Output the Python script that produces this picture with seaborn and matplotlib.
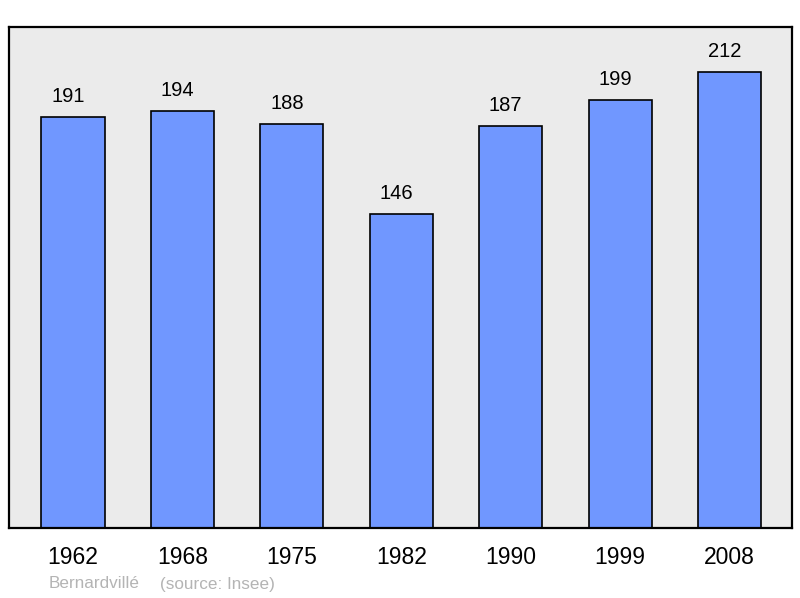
import matplotlib
matplotlib.use("Agg")
import matplotlib.pyplot as plt
import seaborn as sns

# population by census year
years = ["1962", "1968", "1975", "1982", "1990", "1999", "2008"]
population = [191, 194, 188, 146, 187, 199, 212]
commune = "Bernardvillé"
source = "(source: Insee)"

sns.set_style("white")
plt.rcParams["font.family"] = ["Liberation Sans", "DejaVu Sans"]
plt.rcParams["text.color"] = "black"
plt.rcParams["xtick.color"] = "black"

fig = plt.figure(figsize=(8, 5.98), dpi=100)
ax = fig.add_axes([9 / 800, 70 / 598, 783 / 800, 501 / 598])
ax.set_facecolor("#ebebeb")

sns.barplot(x=years, y=population, color="#7097ff", saturation=1,
            width=0.576, edgecolor="black", linewidth=1.2, ax=ax)

# value labels, sitting a little left of the bar centre like the original
for bar, val in zip(ax.containers[0], population):
    ax.annotate(str(val), (bar.get_x() + bar.get_width() / 2, bar.get_height()),
                xytext=(-5, 11), textcoords="offset pixels",
                ha="center", va="bottom", fontsize=14.5, color="black")

ax.set_xlim(-0.585, 6.571)
ax.set_ylim(0, 233)
ax.set_yticks([])
ax.tick_params(axis="x", length=0, pad=13, labelsize=16.5, labelcolor="black")
ax.set_xlabel("")
ax.set_ylabel("")
for spine in ax.spines.values():
    spine.set_visible(True)
    spine.set_color("black")
    spine.set_linewidth(1.6)

fig.text(49 / 800, 1 - 584 / 598, commune, color="#b4b4b4", fontsize=12.3, va="center")
fig.text(160 / 800, 1 - 584 / 598, source, color="#b4b4b4", fontsize=12.3, va="center")

fig.savefig("out.png", dpi=100, facecolor="white")
